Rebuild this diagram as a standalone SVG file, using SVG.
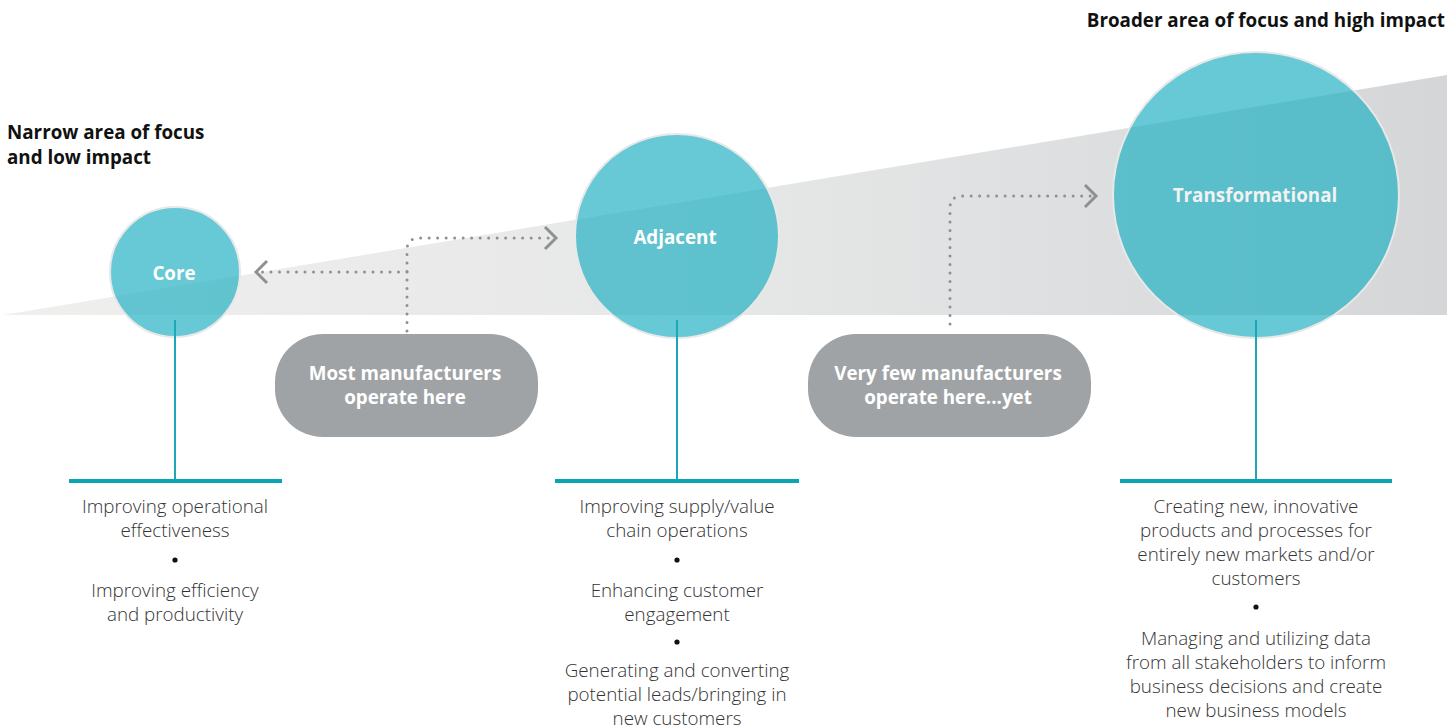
<svg xmlns="http://www.w3.org/2000/svg" width="1450" height="728" viewBox="0 0 1450 728">
<defs>
<linearGradient id="wedge" x1="0" y1="0" x2="1" y2="0">
<stop offset="0" stop-color="#efefee"/>
<stop offset="0.5" stop-color="#e6e7e7"/>
<stop offset="1" stop-color="#d5d6d8"/>
</linearGradient>
</defs>
<style>
.circ{fill:#21b1c2;fill-opacity:0.69;stroke:#e8e8e8;stroke-width:2}
.ctext{font-family:"Open Sans","Liberation Sans",sans-serif;font-weight:700;font-size:18.8px;fill:#ffffff;text-anchor:middle}
.stem{stroke:#1ba9b8;stroke-width:2;fill:none}
.bar{fill:#0aa5b5}
.body{font-family:"Open Sans","Liberation Sans",sans-serif;font-weight:300;font-size:18.8px;fill:#333333;text-anchor:middle}
.bullet{fill:#111111}
.pill{fill:#a0a3a6}
.ptext{font-family:"Open Sans","Liberation Sans",sans-serif;font-weight:700;font-size:18.8px;fill:#ffffff;text-anchor:middle}
.head{font-family:"Open Sans","Liberation Sans",sans-serif;font-weight:700;font-size:18.8px;fill:#111111}
.dots{fill:none;stroke:#8e9093;stroke-width:3;stroke-linecap:round;stroke-dasharray:0 8.5}
.chev{fill:none;stroke:#8e9093;stroke-width:3;stroke-linecap:butt;stroke-linejoin:miter}
</style>
<polygon id="wedge-bg" points="3,315 1447,75 1447,315" fill="url(#wedge)"/>
<text class="head" x="7" y="139">Narrow area of focus</text>
<text class="head" x="7" y="164">and low impact</text>
<text class="head" x="1445" y="27" text-anchor="end">Broader area of focus and high impact</text>
<g id="connectors">
<path class="dots" d="M407,331 L407,250 Q407,238 419,238 L552,238"/>
<path class="chev" d="M545,227 L556,238 L545,249"/>
<path class="dots" d="M407,272 L262,272"/>
<path class="chev" d="M267,261 L256,272 L267,283"/>
<path class="dots" d="M950,324 L950,208 Q950,196 962,196 L1092,196"/>
<path class="chev" d="M1085,185 L1096,196 L1085,207"/>
</g>
<g id="node-core">
<circle class="circ" cx="175" cy="272" r="65"/>
<text class="ctext" x="174" y="280">Core</text>
<line class="stem" x1="175" y1="320" x2="175" y2="480"/>
<rect class="bar" x="69" y="479" width="213" height="4"/>
<text class="body" x="175" y="513">Improving operational</text>
<text class="body" x="175" y="537">effectiveness</text>
<circle class="bullet" cx="175" cy="560" r="2.6"/>
<text class="body" x="175" y="597">Improving efficiency</text>
<text class="body" x="175" y="621">and productivity</text>
</g>
<g id="node-adjacent">
<circle class="circ" cx="677" cy="236" r="102"/>
<text class="ctext" x="675" y="244">Adjacent</text>
<line class="stem" x1="677" y1="320" x2="677" y2="480"/>
<rect class="bar" x="555" y="479" width="244" height="4"/>
<text class="body" x="677" y="513">Improving supply/value</text>
<text class="body" x="677" y="537">chain operations</text>
<circle class="bullet" cx="677" cy="560" r="2.6"/>
<text class="body" x="677" y="597">Enhancing customer</text>
<text class="body" x="677" y="621">engagement</text>
<circle class="bullet" cx="677" cy="642" r="2.6"/>
<text class="body" x="677" y="677">Generating and converting</text>
<text class="body" x="677" y="701">potential leads/bringing in</text>
<text class="body" x="677" y="725">new customers</text>
</g>
<g id="node-transformational">
<circle class="circ" cx="1256" cy="195" r="143"/>
<text class="ctext" x="1255" y="202" style="fill:#f2f2f2">Transformational</text>
<line class="stem" x1="1256" y1="320" x2="1256" y2="480"/>
<rect class="bar" x="1120" y="479" width="272" height="4"/>
<text class="body" x="1256" y="513">Creating new, innovative</text>
<text class="body" x="1256" y="537">products and processes for</text>
<text class="body" x="1256" y="561">entirely new markets and/or</text>
<text class="body" x="1256" y="585">customers</text>
<circle class="bullet" cx="1256" cy="607" r="2.6"/>
<text class="body" x="1256" y="645">Managing and utilizing data</text>
<text class="body" x="1256" y="669">from all stakeholders to inform</text>
<text class="body" x="1256" y="693">business decisions and create</text>
<text class="body" x="1256" y="717">new business models</text>
</g>
<g id="node-most">
<rect class="pill" x="275" y="334" width="263" height="103" rx="48" ry="48"/>
<text class="ptext" x="405" y="380">Most manufacturers</text>
<text class="ptext" x="405" y="404">operate here</text>
</g>
<g id="node-few">
<rect class="pill" x="808" y="334" width="283" height="103" rx="48" ry="48"/>
<text class="ptext" x="948" y="380">Very few manufacturers</text>
<text class="ptext" x="948" y="404">operate here...yet</text>
</g>
</svg>
